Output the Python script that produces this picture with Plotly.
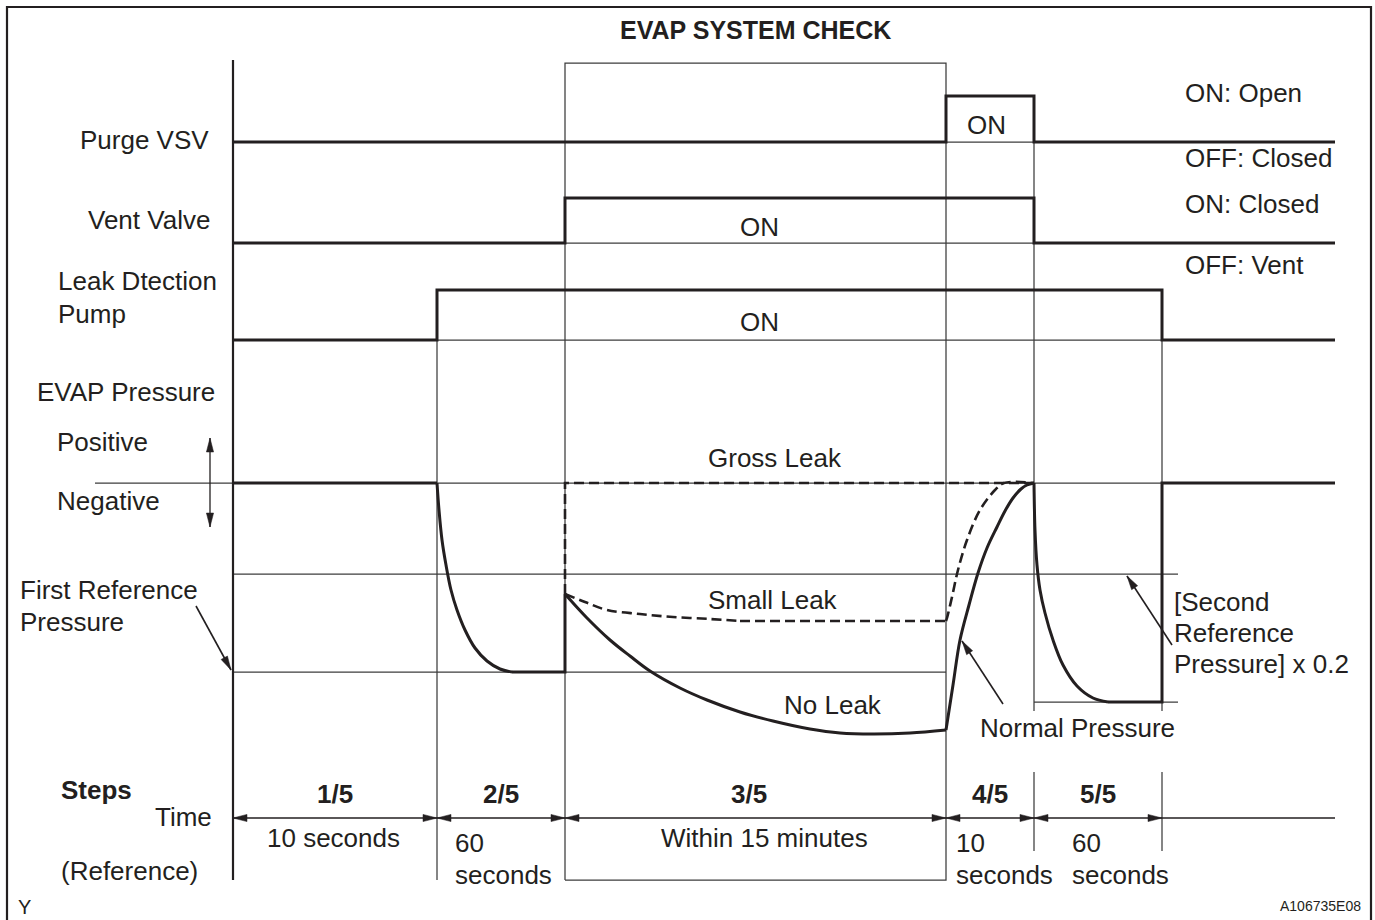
import plotly.graph_objects as go

# ---------------- data (drawing units: time -> x, level -> y, y grows downward) -------------
step_edges = [233, 437, 565, 946, 1034, 1162]          # boundaries of steps 1/5 .. 5/5
time_end = 1335
step_labels = ["1/5", "2/5", "3/5", "4/5", "5/5"]

# digital signals (step shaped)
purge_x = [233, 946, 1034, 1335]
purge_y = [142, 96, 142, 142]
vent_x = [233, 565, 1034, 1335]
vent_y = [243, 198, 243, 243]
pump_x = [233, 437, 1162, 1335]
pump_y = [340, 290, 340, 340]

# EVAP pressure levels
zero_level = 483
first_ref_level = 574
low_level = 672
second_ref_level = 702

# EVAP pressure, solid curve (normal / no leak)
p_flat_x = [233, 437]
p_flat_y = [483, 483]
p_decay_x = [437, 439, 442, 446, 451, 457, 465, 475, 487, 500, 512]
p_decay_y = [483, 510, 540, 565, 590, 610, 630, 648, 661, 669, 672]
p_hold_x = [512, 565, 565]
p_hold_y = [672, 672, 594]
noleak_x = [565, 587, 610, 630, 650, 680, 707, 740, 773, 810, 840, 873, 910, 946]
noleak_y = [594, 618, 640, 656, 671, 688, 700, 712, 721, 729, 733, 734, 733, 730]
rise_x = [946, 953, 960, 969, 978, 987, 997, 1005, 1013, 1021, 1027, 1034]
rise_y = [730, 685, 640, 605, 573, 548, 527, 511, 498, 489, 485, 483]
fall_x = [1034, 1035, 1037, 1040, 1045, 1053, 1063, 1077, 1093, 1108]
fall_y = [483, 530, 565, 590, 613, 640, 665, 686, 698, 702]
p_tail_x = [1108, 1162, 1162, 1335]
p_tail_y = [702, 702, 483, 483]

# dashed curves (gross leak / small leak)
gross_x = [565, 565, 1034]
gross_y = [594, 483, 483]
small_x = [565, 585, 607, 640, 673, 710, 740]
small_y = [594, 602, 610, 614, 617, 619, 621]
small_flat_x = [740, 946]
small_flat_y = [621, 621]
small_rise_x = [946, 947, 952, 958, 967, 980, 995, 1004, 1034]
small_rise_y = [621, 618, 597, 570, 540, 510, 490, 483, 483]

# callout arrows: (tail x, tail y, tip x, tip y)
callouts = [(196, 606, 231, 670),      # First Reference Pressure
            (1003, 704, 962, 641),     # Normal Pressure
            (1172, 645, 1127, 576)]    # [Second Reference Pressure] x 0.2
posneg_x = 210
posneg_y = [438, 527]

time_line_y = 818

INK = "#231f20"
THIN = "#3c3c3c"
FONT = "Liberation Sans, Arial, Helvetica, sans-serif"

fig = go.Figure()


def line(xs, ys, width=1.25, color=THIN, dash=None, shape="linear"):
    fig.add_trace(go.Scatter(x=xs, y=ys, mode="lines",
                             line=dict(color=color, width=width, dash=dash, shape=shape, smoothing=1.0),
                             hoverinfo="skip", showlegend=False))


def head(x0, y0, x1, y1, length=14, half=3.6):
    dx, dy = x1 - x0, y1 - y0
    n = (dx * dx + dy * dy) ** 0.5
    ux, uy = dx / n, dy / n
    bx, by = x1 - ux * length, y1 - uy * length
    px, py = -uy * half, ux * half
    fig.add_trace(go.Scatter(x=[x1, bx + px, bx - px, x1], y=[y1, by + py, by - py, y1],
                             mode="lines", fill="toself", fillcolor=INK,
                             line=dict(color=INK, width=0.5), hoverinfo="skip", showlegend=False))
    return bx, by


def arrow(x0, y0, x1, y1, width=1.6, both=False):
    line([x0, x1], [y0, y1], width=width, color=INK)
    head(x0, y0, x1, y1)
    if both:
        head(x1, y1, x0, y0)


# outer frame
line([7, 7, 1371, 1371], [925, 7, 7, 925], width=2.2, color=INK)

# thin grid / guide lines
line([95, time_end], [zero_level, zero_level])
line([step_edges[0], 1178], [first_ref_level, first_ref_level])
line([step_edges[0], step_edges[3]], [low_level, low_level])
line([step_edges[4], 1178], [second_ref_level, second_ref_level])
line([step_edges[3], step_edges[4]], [purge_y[0], purge_y[0]])
line([step_edges[2], step_edges[4]], [vent_y[0], vent_y[0]])
line([step_edges[1], step_edges[5]], [pump_y[0], pump_y[0]])
# box of step 3/5
line([step_edges[2], step_edges[2], step_edges[3], step_edges[3], step_edges[2]], [880, 63, 63, 880, 880])
line([step_edges[1], step_edges[1]], [pump_y[1], 880])
for xe, ytop in [(step_edges[4], purge_y[1]), (step_edges[5], pump_y[1])]:
    line([xe, xe], [ytop, 711])
    line([xe, xe], [772, 851])
# main left axis
line([step_edges[0], step_edges[0]], [60, 880], width=2.2, color=INK)

# time line with double arrows
line([step_edges[0], time_end], [time_line_y, time_line_y], width=1.3, color=INK)
for a, b in zip(step_edges[:-1], step_edges[1:]):
    head(a, time_line_y, b, time_line_y)
    head(b, time_line_y, a, time_line_y)

# digital signals
for xs, ys in [(purge_x, purge_y), (vent_x, vent_y), (pump_x, pump_y)]:
    line(xs, ys, width=3, color=INK, shape="hv")

# pressure (solid)
line(p_flat_x, p_flat_y, width=3, color=INK)
line(p_decay_x, p_decay_y, width=3, color=INK, shape="spline")
line(p_hold_x, p_hold_y, width=3, color=INK)
line(noleak_x, noleak_y, width=3, color=INK, shape="spline")
line(rise_x, rise_y, width=3, color=INK, shape="spline")
line(fall_x, fall_y, width=3, color=INK, shape="spline")
line(p_tail_x, p_tail_y, width=3, color=INK)

# pressure (dashed)
DASH = "10px,5px"
line(gross_x, gross_y, width=2.6, color=INK, dash=DASH)
line(small_x, small_y, width=2.6, color=INK, dash=DASH, shape="spline")
line(small_flat_x, small_flat_y, width=2.6, color=INK, dash=DASH)
line(small_rise_x, small_rise_y, width=2.6, color=INK, dash=DASH, shape="spline")

# callout arrows
for (x0, y0, x1, y1) in callouts:
    arrow(x0, y0, x1, y1)
arrow(posneg_x, posneg_y[0], posneg_x, posneg_y[1], width=1.3, both=True)

# ---------------- texts ----------------
ann = []


def txt(s, x, y, xa="center", size=26, bold=False):
    ann.append(dict(x=x, y=y, xref="x", yref="y", text=f"<b>{s}</b>" if bold else s,
                    showarrow=False, xanchor=xa, yanchor="middle",
                    font=dict(family=FONT, size=size, color=INK)))


txt("EVAP SYSTEM CHECK", 755, 30, bold=True, size=25)
txt("Purge VSV", 211, 140, xa="right")
txt("Vent Valve", 212, 220, xa="right")
txt("Leak Dtection", 56, 281, xa="left")
txt("Pump", 56, 314, xa="left")
txt("EVAP Pressure", 35, 392, xa="left")
txt("Positive", 55, 442, xa="left")
txt("Negative", 55, 501, xa="left")
txt("First Reference", 18, 590, xa="left")
txt("Pressure", 18, 622, xa="left")
txt("Steps", 59, 790, xa="left", bold=True)
txt("Time", 214, 817, xa="right")
txt("(Reference)", 59, 871, xa="left")
txt("Y", 16, 907, xa="left", size=20)
txt("A106735E08", 1363, 906, xa="right", size=14)

txt("ON: Open", 1183, 93, xa="left")
txt("OFF: Closed", 1183, 158, xa="left")
txt("ON: Closed", 1183, 204, xa="left")
txt("OFF: Vent", 1183, 265, xa="left")
txt("ON", 986, 125)
txt("ON", 759, 227)
txt("ON", 759, 322)
txt("Gross Leak", 775, 458)
txt("Small Leak", 773, 600)
txt("No Leak", 833, 705)
txt("Normal Pressure", 978, 728, xa="left")
txt("[Second", 1172, 602, xa="left")
txt("Reference", 1172, 633, xa="left")
txt("Pressure] x 0.2", 1172, 664, xa="left")

for lab, a, b in zip(step_labels, step_edges[:-1], step_edges[1:]):
    txt(lab, (a + b) / 2 + (0 if lab != "3/5" else -7), 794, bold=True)
txt("10 seconds", 333, 838)
txt("60", 453, 843, xa="left")
txt("seconds", 453, 875, xa="left")
txt("Within 15 minutes", 764, 838)
txt("10", 954, 843, xa="left")
txt("seconds", 954, 875, xa="left")
txt("60", 1070, 843, xa="left")
txt("seconds", 1070, 875, xa="left")

fig.update_layout(
    width=1375, height=920, margin=dict(l=0, r=0, t=0, b=0),
    paper_bgcolor="white", plot_bgcolor="white",
    xaxis=dict(range=[0, 1375], visible=False, fixedrange=True),
    yaxis=dict(range=[920, 0], visible=False, fixedrange=True),
    annotations=ann, showlegend=False,
)
fig.write_html("out.html", config={"displayModeBar": False},
               post_script="document.body.style.margin='0';document.body.style.padding='0';"
                           "document.body.style.overflow='hidden';")
